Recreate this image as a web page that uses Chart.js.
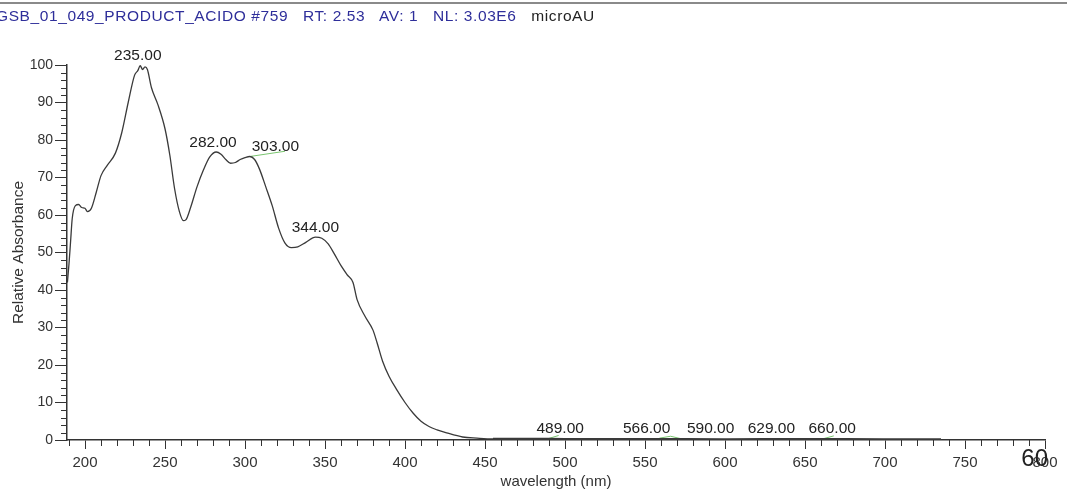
<!DOCTYPE html>
<html>
<head>
<meta charset="utf-8">
<script src="https://cdn.jsdelivr.net/npm/chart.js@4/dist/chart.umd.min.js"></script>
<style>
    html, body { margin: 0; padding: 0; background: #fff; overflow: hidden; }
    #wrap { position: relative; width: 1067px; height: 494px; }
    #topRule { position: absolute; left: 0; top: 2px; width: 1067px; height: 0; border-top: 2px solid #8a8a8a; }
    #header { position: absolute; left: -4px; top: 7px; font: 15.5px "Liberation Sans", Arial, sans-serif; letter-spacing: 0.6px; white-space: pre; color: #2e2e9a; }
    #header .unit { color: #222; }
    canvas { position: absolute; left: 0; top: 0; }
</style>
</head>
<body>
<div id="wrap">
    <canvas id="spectrum" width="1067" height="494"></canvas>
    <div id="topRule"></div>
    <div id="header">GSB_01_049_PRODUCT_ACIDO #759   RT: 2.53   AV: 1   NL: 3.03E6   <span class="unit">microAU</span></div>
</div>
<script>
    // UV-Vis spectrum, wavelength (nm) vs relative absorbance
    const wavelengths = [
        189, 190, 191, 192, 194, 196, 198, 200, 201.5, 204, 207, 210, 214, 219, 223, 227, 231, 233,
        234.5, 236, 237.5, 239, 241.5, 245.5, 250, 253, 256, 259, 261.5, 263, 266, 270, 274, 278,
        282, 285, 288, 291, 294, 297, 300, 303, 306, 309, 313, 317, 321, 325, 329, 333, 338, 344,
        348, 352, 356, 360, 364, 367.5, 370, 375, 380, 382.5, 386, 390, 395, 400, 405, 410, 415,
        420, 426, 436, 445, 455, 480, 500, 550, 600, 650, 700, 735
    ];
    const absorbance = [
        42, 47, 53, 59, 62.5, 62.8, 62, 61.8, 60.9, 61.8, 66, 70.5, 73.3, 76.5, 82, 90, 97.3, 98.5,
        99.8, 98.8, 99.5, 98.8, 94, 89.5, 83, 76, 67, 60.9, 58.5, 58.7, 62, 67.5, 72, 75.5,
        76.8, 76.2, 74.8, 73.8, 74, 74.8, 75.3, 75.6, 74.8, 72.3, 67.5, 62.5, 56.5, 52.5, 51.3, 51.5, 52.7, 54.1,
        53.8, 52.3, 49.5, 46.5, 44, 42, 37.5, 33, 29.3, 26, 21, 17, 13.3, 10, 7.2, 5, 3.6,
        2.7, 1.9, 0.8, 0.5, 0.3, 0.3, 0.25, 0.25, 0.2, 0.25, 0.2, 0.2
    ];

    // picked peaks: wavelength, value at the peak, and where the label text sits (nm)
    const peakNm = [235, 282, 303, 344, 489, 566, 590, 629, 660];
    const peakValue = [99.8, 76.8, 75.6, 54.1, 0.3, 0.3, 0.3, 0.3, 0.3];
    const peakLabelNm = [233, 280, 319, 344, 497, 551, 591, 629, 667];

    // green leader lines between curve and label
    const leaderX = [[303, 325], [489, 496], [559, 566, 572], [661, 668]];
    const leaderY = [[75.6, 77], [0.3, 1.2], [0.5, 1.0, 0.4], [0.3, 1.1]];

    const xMajorTicks = [200, 250, 300, 350, 400, 450, 500, 550, 600, 650, 700, 750, 800];
    const yMajorTicks = [0, 10, 20, 30, 40, 50, 60, 70, 80, 90, 100];

    const FONT = '"Liberation Sans", Arial, sans-serif';
    const INK = '#333';

    const points = wavelengths.map(function (w, i) {
        return { x: w, y: absorbance[i] };
    });

    const leaderSets = leaderX.map(function (xs, k) {
        return {
            data: xs.map(function (x, i) { return { x: x, y: leaderY[k][i] }; }),
            showLine: true,
            borderColor: '#79c56f',
            borderWidth: 1,
            pointRadius: 0
        };
    });

    // minor ticks, peak labels
    const spectrumDecor = {
        id: 'spectrumDecor',
        afterDraw(chart) {
            const ctx = chart.ctx;
            const xs = chart.scales.x;
            const ys = chart.scales.y;
            const area = chart.chartArea;

            ctx.save();
            ctx.strokeStyle = INK;
            ctx.lineWidth = 1;
            ctx.beginPath();
            for (let v = 190; v <= 800; v += 10) {
                if (v % 50 === 0) continue;
                const px = Math.round(xs.getPixelForValue(v)) + 0.5;
                ctx.moveTo(px, area.bottom);
                ctx.lineTo(px, area.bottom + 6);
            }
            for (let v = 2; v < 100; v += 2) {
                if (v % 10 === 0) continue;
                const py = Math.round(ys.getPixelForValue(v)) + 0.5;
                ctx.moveTo(area.left - 6, py);
                ctx.lineTo(area.left, py);
            }
            ctx.stroke();

            ctx.fillStyle = '#222';
            ctx.font = '15.5px ' + FONT;
            ctx.textAlign = 'center';
            ctx.textBaseline = 'bottom';
            peakNm.forEach(function (nm, i) {
                const px = xs.getPixelForValue(peakLabelNm[i]);
                const py = ys.getPixelForValue(peakValue[i]) - 2;
                ctx.fillText(nm.toFixed(2), px, py);
            });

            // stray label printed over the end of the axis
            ctx.font = '24px ' + FONT;
            ctx.textAlign = 'right';
            ctx.textBaseline = 'middle';
            ctx.fillText('60', xs.getPixelForValue(800) + 3, area.bottom + 19);
            ctx.restore();
        }
    };

    new Chart('spectrum', {
        type: 'scatter',
        data: {
            datasets: [{
                data: points,
                showLine: true,
                borderColor: '#3a3a3a',
                borderWidth: 1.3,
                pointRadius: 0,
                cubicInterpolationMode: 'monotone',
                segment: {
                    borderWidth: function (ctx) {
                        return ctx.p0.parsed.x >= 455 ? 2.2 : 1.3;
                    }
                }
            }].concat(leaderSets)
        },
        options: {
            responsive: false,
            animation: false,
            layout: { padding: { left: 0, right: 22, top: 65, bottom: 0 } },
            plugins: {
                legend: { display: false },
                tooltip: { enabled: false }
            },
            scales: {
                x: {
                    type: 'linear',
                    min: 188.75,
                    max: 800,
                    afterFit: function (scale) { scale.height = 54; },
                    afterBuildTicks: function (scale) {
                        scale.ticks = xMajorTicks.map(function (v) { return { value: v }; });
                    },
                    border: { display: true, color: INK, width: 1.5 },
                    grid: { drawOnChartArea: false, drawTicks: true, tickLength: 9, tickColor: INK },
                    ticks: {
                        color: INK,
                        padding: 5,
                        maxRotation: 0,
                        autoSkip: false,
                        font: { family: FONT, size: 15 }
                    },
                    title: {
                        display: true,
                        text: 'wavelength (nm)',
                        color: INK,
                        padding: { top: 0, bottom: 3 },
                        font: { family: FONT, size: 15 }
                    }
                },
                y: {
                    min: 0,
                    max: 100,
                    afterFit: function (scale) { scale.width = 67; },
                    afterBuildTicks: function (scale) {
                        scale.ticks = yMajorTicks.map(function (v) { return { value: v }; });
                    },
                    border: { display: true, color: INK, width: 1.5 },
                    grid: { drawOnChartArea: false, drawTicks: true, tickLength: 12, tickColor: INK },
                    ticks: {
                        color: INK,
                        padding: 2,
                        autoSkip: false,
                        font: { family: FONT, size: 14 }
                    },
                    title: {
                        display: true,
                        text: 'Relative Absorbance',
                        color: INK,
                        padding: { top: 9, bottom: 0 },
                        font: { family: FONT, size: 15.5 }
                    }
                }
            }
        },
        plugins: [spectrumDecor]
    });
</script>
</body>
</html>
